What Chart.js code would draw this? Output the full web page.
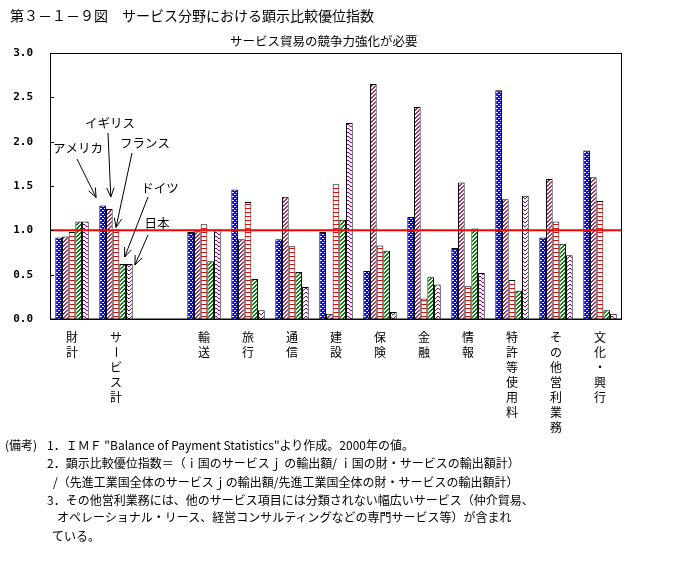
<!DOCTYPE html>
<html><head><meta charset="utf-8">
<script src="https://cdn.jsdelivr.net/npm/chart.js@4"></script>
<style>
body{margin:0;background:#fff;width:680px;height:570px;overflow:hidden;position:relative;font-family:"Noto Sans CJK JP",sans-serif;}
#c{position:absolute;left:0;top:0;}
.t{position:absolute;white-space:pre;color:#000;line-height:1;font-family:"Noto Sans CJK JP",sans-serif;}
.n{font-size:12px;}
</style></head><body>
<canvas id="c" width="680" height="570"></canvas>
<div class="t" style="left:10px;top:8px;font-size:14px">第３－１－９図　サービス分野における顕示比較優位指数</div>
<div class="t" style="left:230px;top:35px;font-size:12.5px">サービス貿易の競争力強化が必要</div>
<div class="t n" style="left:5px;top:439px">(備考)</div>
<div class="t n" style="left:47px;top:439px">1．ＩＭＦ "Balance of Payment Statistics"より作成。2000年の値。</div>
<div class="t n" style="left:47px;top:457px">2．顕示比較優位指数＝（ｉ国のサービスｊ の輸出額/ ｉ国の財・サービスの輸出額計）</div>
<div class="t n" style="left:53px;top:476px">/（先進工業国全体のサービスｊの輸出額/先進工業国全体の財・サービスの輸出額計）</div>
<div class="t n" style="left:47px;top:494px">3．その他営利業務には、他のサービス項目には分類されない幅広いサービス（仲介貿易、</div>
<div class="t n" style="left:57px;top:511px">オペレーショナル・リース、経営コンサルティングなどの専門サービス等）が含まれ</div>
<div class="t n" style="left:52px;top:530px">ている。</div>
<script>
// ---- data ----
const categories = ['財計','サービス計','','輸送','旅行','通信','建設','保険','金融','情報','特許等使用料','その他営利業務','文化・興行'];
const seriesNames = ['アメリカ','イギリス','フランス','ドイツ','日本'];
const usa     = [0.92,1.28,null,0.98,1.46,0.90,0.98,0.54,1.15,0.80,2.58,0.92,1.90];
const uk      = [0.93,1.24,null,0.99,0.90,1.38,0.06,2.65,2.39,1.54,1.35,1.58,1.60];
const france  = [0.98,1.01,null,1.07,1.32,0.82,1.52,0.83,0.23,0.37,0.44,1.10,1.33];
const germany = [1.10,0.62,null,0.65,0.45,0.53,1.12,0.77,0.47,1.02,0.32,0.85,0.10];
const japan   = [1.10,0.62,null,1.01,0.10,0.36,2.21,0.08,0.39,0.52,1.39,0.72,0.06];
const yTicks = ['0.0','0.5','1.0','1.5','2.0','2.5','3.0'];
const referenceValue = 1.0;
const annotatedCategory = 1;

// ---- styles ----
const ctx = document.getElementById('c').getContext('2d');
function pat(w,h,bg,fg,fn){
  const c=document.createElement('canvas');c.width=w;c.height=h;
  const g=c.getContext('2d');g.fillStyle=bg;g.fillRect(0,0,w,h);g.fillStyle=fg;
  for(let y=0;y<h;y++)for(let x=0;x<w;x++)if(fn(x,y))g.fillRect(x,y,1,1);
  return ctx.createPattern(c,'repeat');
}
const fills = [
  pat(4,4,'#0000ff','#ffffff',(x,y)=>(y===0&&x<2)||(y===2&&x>=2)),
  pat(4,4,'#ffffff','#993366',(x,y)=>(x+y)%4<2),
  pat(1,4,'#ffffff','#ff0000',(x,y)=>y===0),
  pat(4,4,'#ffffff','#008000',(x,y)=>(x+y)%4<2),
  pat(6,4,'#ffffff','#800080',(x,y)=>y===[0,1,2,2,1,0][x])
];
const seriesData = [usa,uk,france,germany,japan];

// annotation layout (label centre, arrow start, tip offset from bar top)
const annot = [
  {tx:78, ty:148, sx:77, sy:159, dx:-6.5, dy:-8},
  {tx:110,ty:123, sx:108,sy:133, dx:1.5, dy:-12},
  {tx:145,ty:143, sx:132,sy:153, dx:0,   dy:-2},
  {tx:160,ty:188, sx:148,sy:197, dx:2,   dy:-7},
  {tx:157,ty:223, sx:148,sy:235, dx:5.5, dy:1}
];

const extras = {
  id:'extras',
  afterDatasetsDraw(chart){
    const {ctx:g, chartArea:a, scales:{x,y}} = chart;
    g.save();
    // reference line
    g.strokeStyle='#ff0000'; g.lineWidth=2;
    const ry=y.getPixelForValue(referenceValue);
    g.beginPath(); g.moveTo(a.left,ry); g.lineTo(a.right,ry); g.stroke();
    // frame
    g.strokeStyle='#000'; g.lineWidth=1;
    g.strokeRect(a.left+0.5,a.top+0.5,a.right-a.left-1,a.bottom-a.top-0.5);
    g.beginPath(); g.moveTo(a.left,a.bottom+0.5); g.lineTo(a.right,a.bottom+0.5); g.stroke();
    // inward ticks
    g.beginPath();
    yTicks.forEach(t=>{const p=Math.round(y.getPixelForValue(parseFloat(t)))+0.5; g.moveTo(a.left,p); g.lineTo(a.left+4,p);});
    g.stroke();
    // vertical category labels
    g.fillStyle='#000'; g.font='12px "Noto Sans CJK JP"'; g.textAlign='center'; g.textBaseline='middle';
    categories.forEach((lab,i)=>{
      const cx=x.getPixelForValue(i);
      [...lab].forEach((ch,k)=>{
        const cy=a.bottom+18+k*15;
        if(ch==='ー'){g.save();g.translate(cx,cy);g.rotate(Math.PI/2);g.fillText(ch,0,0);g.restore();}
        else g.fillText(ch,cx,cy);
      });
    });
    // annotations
    g.font='12.5px "Noto Sans CJK JP"';
    seriesNames.forEach((name,i)=>{
      const bar=chart.getDatasetMeta(i).data[annotatedCategory];
      const o=annot[i];
      const tx=bar.x+o.dx, ty=bar.y+o.dy;
      g.fillText(name,o.tx,o.ty);
      g.beginPath(); g.moveTo(o.sx,o.sy); g.lineTo(tx,ty);
      const ang=Math.atan2(ty-o.sy,tx-o.sx), L=10, h=0.38;
      g.moveTo(tx,ty); g.lineTo(tx-L*Math.cos(ang-h),ty-L*Math.sin(ang-h));
      g.moveTo(tx,ty); g.lineTo(tx-L*Math.cos(ang+h),ty-L*Math.sin(ang+h));
      g.stroke();
    });
    g.restore();
  }
};

new Chart(ctx,{
  type:'bar',
  data:{labels:categories, datasets:seriesNames.map((n,i)=>({
    label:n, data:seriesData[i], backgroundColor:fills[i], borderColor:'#000', borderWidth:1,
    categoryPercentage:0.76, barPercentage:1.0
  }))},
  options:{
    responsive:false, devicePixelRatio:1, animation:false,
    layout:{padding:{top:53,right:58,bottom:231,left:0}},
    plugins:{legend:{display:false},tooltip:{enabled:false}},
    scales:{
      x:{grid:{display:false,drawTicks:false},border:{display:false},ticks:{display:false},afterFit(s){s.height=20;}},
      y:{min:0,max:3,
        afterBuildTicks(s){s.ticks=yTicks.map(v=>({value:parseFloat(v)}));},
        ticks:{callback:v=>Number(v).toFixed(1),padding:17,color:'#000',font:{family:'DejaVu Sans Mono',size:11,weight:'bold'}},
        grid:{display:false,drawTicks:false},border:{display:false},
        afterFit(s){s.width=50;}}
    }
  },
  plugins:[extras]
});
</script>
</body></html>
